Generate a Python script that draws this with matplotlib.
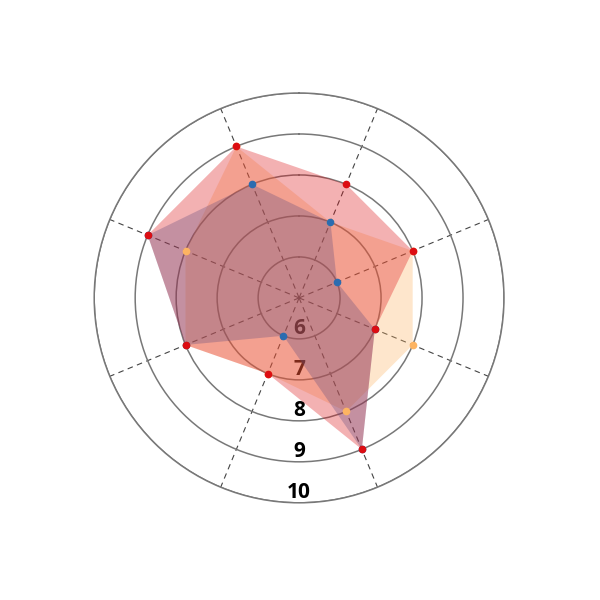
import numpy as np
import matplotlib
matplotlib.use("Agg")
import matplotlib.pyplot as plt

# spokes clockwise from the top
angles_deg = [22.5, 67.5, 112.5, 157.5, 202.5, 247.5, 292.5, 337.5]
red_vals = [8, 8, 7, 9, 7, 8, 9, 9]
orange_vals = [7, 8, 8, 8, 7, 8, 8, 9]
blue_vals = [7, 6, 7, 9, 6, 8, 9, 8]
ring_values = [6, 7, 8, 9, 10]

theta = np.deg2rad(angles_deg)
theta_closed = np.append(theta, theta[0])

fig = plt.figure(figsize=(6, 6), dpi=100)
ax = fig.add_axes([0.157, 0.162, 0.683, 0.683], projection='polar')
ax.set_theta_zero_location('N')
ax.set_theta_direction(-1)
ax.set_ylim(5, 10)
ax.set_axisbelow(True)

# fill order: orange, blue, red on top
series = [(orange_vals, '#fdb462'), (blue_vals, '#2b6cb0'), (red_vals, '#dc0d12')]
for vals, col in series:
    v = np.append(vals, vals[0])
    ax.fill(theta_closed, v, color=col, alpha=0.32, lw=0, zorder=2)
for vals, col in series:
    ax.plot(theta, vals, 'o', color=col, ms=4.5, zorder=3)

ax.set_yticks(ring_values)
ax.set_yticklabels([])
ax.set_xticks(theta)
ax.set_xticklabels([])
ax.yaxis.grid(True, color='#787878', lw=1.1, ls='-')
ax.xaxis.grid(True, color='#444444', lw=0.8, ls=(0, (5, 4)))
ax.spines['polar'].set_color('#787878')
ax.spines['polar'].set_linewidth(1.1)

for v in ring_values:
    ax.text(np.pi, v - 0.25, str(v), ha='center', va='center', family='Open Sans',
            fontsize=15, fontweight='bold', color='black', zorder=1)

fig.savefig('out.png', dpi=100)
